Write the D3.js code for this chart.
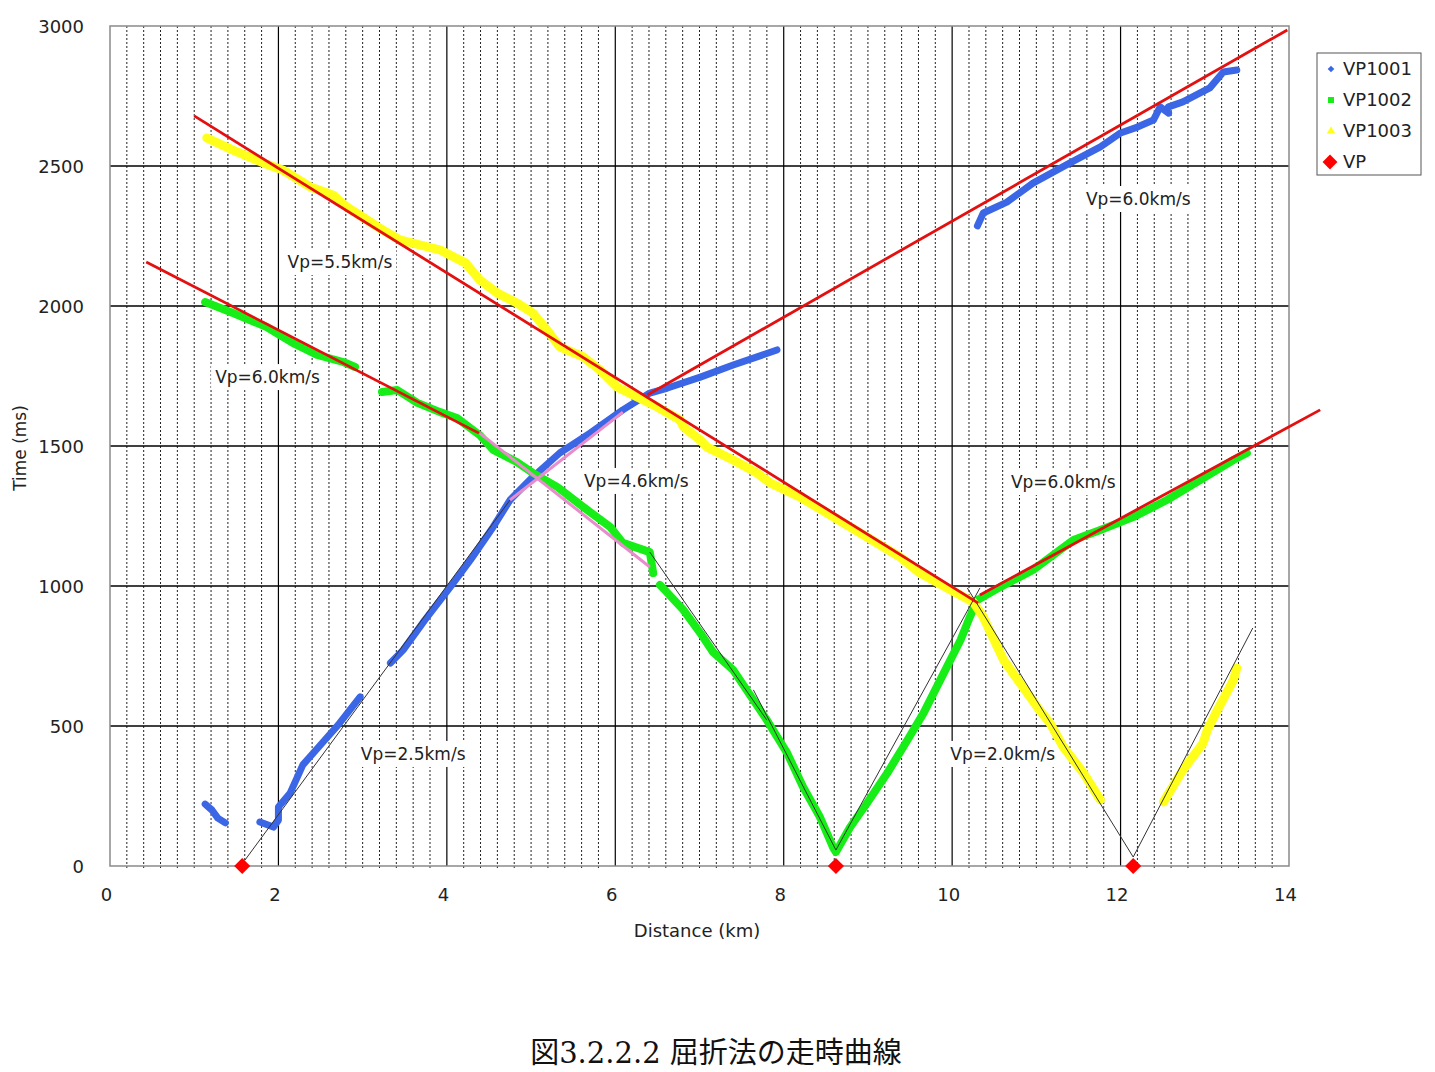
<!DOCTYPE html>
<html><head><meta charset="utf-8">
<script src="https://cdn.jsdelivr.net/npm/d3@7"></script>
<style>body{margin:0;background:#fff;} svg{display:block}</style>
</head><body><svg id="c" width="1435" height="1072"></svg>
<script>
// ---------- data ----------
const xTicks = [0, 2, 4, 6, 8, 10, 12, 14];
const yTicks = [0, 500, 1000, 1500, 2000, 2500, 3000];
const minorStep = 0.2;
const legendNames = ["VP1001", "VP1002", "VP1003", "VP"];

// observed first arrivals (distance km, time ms), as traced segments
const vp1001 = [
  [[1.13,221],[1.21,200],[1.28,171],[1.37,154]],
  [[1.78,157],[1.94,139],[2.00,164],[2.00,211],[2.14,261],[2.29,361],[2.53,443],[2.71,504],[2.97,604]],
  [[3.33,725],[3.48,771],[3.74,879],[4.04,996],[4.28,1093],[4.55,1211],[4.75,1307],[5.02,1389],[5.34,1475],[5.70,1546],[6.09,1629],[6.41,1689],[6.62,1707],[7.01,1746],[7.40,1789],[7.92,1843]],
  [[10.30,2286],[10.37,2332],[10.65,2371],[10.96,2439],[11.40,2511],[11.76,2568],[12.00,2618],[12.20,2639],[12.39,2664],[12.47,2711],[12.57,2689]],
  [[12.57,2711],[12.74,2729],[13.06,2779],[13.22,2836],[13.38,2843]]
];
const vp1002 = [
  [[1.13,2014],[1.46,1975],[1.86,1925],[2.17,1868],[2.46,1825],[2.77,1800],[2.91,1782]],
  [[3.23,1693],[3.41,1700],[3.65,1654],[3.92,1621],[4.12,1600],[4.39,1539],[4.55,1486],[4.83,1443],[5.02,1404],[5.31,1354],[5.62,1282],[5.94,1211],[6.09,1154],[6.41,1121],[6.45,1046]],
  [[6.53,1004],[6.81,914],[7.01,832],[7.16,764],[7.40,700],[7.64,593],[7.80,521],[8.04,404],[8.23,282],[8.43,175],[8.59,64],[8.62,50],[8.79,139],[8.99,225],[9.23,332],[9.47,450],[9.66,546],[9.98,736],[10.10,807],[10.21,889],[10.30,950],[10.57,996],[10.96,1057],[11.44,1164],[11.76,1200],[12.15,1246],[12.55,1307],[12.95,1379],[13.34,1450],[13.50,1475]]
];
const vp1003 = [
  [[1.15,2600],[1.46,2557],[1.82,2511],[2.05,2486],[2.38,2425],[2.65,2396],[2.81,2354],[3.24,2271],[3.44,2236],[3.92,2200],[4.22,2154],[4.39,2093],[4.60,2046],[4.83,2011],[5.02,1975],[5.19,1914],[5.34,1854],[5.62,1818],[5.82,1771],[6.02,1711],[6.26,1675],[6.50,1639],[6.77,1593],[6.81,1568],[7.01,1521],[7.09,1496],[7.40,1450],[7.68,1404],[7.84,1368],[8.19,1318],[8.55,1254],[8.91,1189],[9.38,1104],[9.62,1046],[9.98,986],[10.25,943],[10.37,889],[10.61,736],[11.01,568],[11.16,511],[11.32,425],[11.56,332],[11.76,236]],
  [[12.51,229],[12.74,343],[12.98,439],[13.03,486],[13.15,557],[13.34,664],[13.38,707]]
];
const vpShotX = [1.57, 8.62, 12.15];

// fitted refraction lines (red), intermediate layer (pink), direct waves (black)
const refractLines = [
  [[1.00,2679],[10.31,939]],
  [[0.43,2157],[4.38,1546]],
  [[6.38,1682],[13.98,2986]],
  [[10.33,968],[14.37,1629]]
];
const pinkLines = [
  [[4.39,1546],[6.41,1068]],
  [[4.75,1307],[6.09,1621]]
];
const directLines = [
  [[1.60,20],[4.75,1307]],
  [[6.41,1121],[7.80,521]],
  [[7.64,629],[8.62,57]],
  [[8.62,57],[10.33,993]],
  [[10.18,993],[12.15,32]],
  [[12.15,32],[13.57,850]]
];
const velocityLabels = [
  {text:"Vp=5.5km/s", x:2.73, t:2157},
  {text:"Vp=6.0km/s", x:1.87, t:1746},
  {text:"Vp=4.6km/s", x:6.25, t:1375},
  {text:"Vp=6.0km/s", x:12.21, t:2382},
  {text:"Vp=6.0km/s", x:11.32, t:1371},
  {text:"Vp=2.5km/s", x:3.60, t:400},
  {text:"Vp=2.0km/s", x:10.60, t:400}
];

// ---------- drawing ----------
const svg = d3.select("#c");
const W = 1435, H = 1072;
const L = 110, R = 1289, T = 26, B = 866;
const x = d3.scaleLinear().domain([0,14]).range([L,R]);
const y = d3.scaleLinear().domain([0,3000]).range([B,T]);
const font = "'DejaVu Sans', 'Noto Sans CJK JP', sans-serif";

svg.append("rect").attr("width",W).attr("height",H).attr("fill","#fff");

const grid = svg.append("g");
const minor = d3.range(minorStep, 14, minorStep).filter(v => Math.abs(v/2 - Math.round(v/2)) > 0.01);
grid.selectAll(".mn").data(minor).enter().append("line")
  .attr("x1",d=>x(d)).attr("x2",d=>x(d)).attr("y1",T).attr("y2",B+3)
  .attr("stroke","#222").attr("stroke-width",1).attr("stroke-dasharray","2,2");
grid.selectAll(".mj").data(xTicks.filter(v=>v>0&&v<14)).enter().append("line")
  .attr("x1",d=>x(d)).attr("x2",d=>x(d)).attr("y1",T).attr("y2",B)
  .attr("stroke","#000").attr("stroke-width",1.2);
grid.selectAll(".hj").data(yTicks.filter(v=>v>0&&v<3000)).enter().append("line")
  .attr("x1",L).attr("x2",R).attr("y1",d=>y(d)).attr("y2",d=>y(d))
  .attr("stroke","#000").attr("stroke-width",1.4);
svg.append("rect").attr("x",L).attr("y",T).attr("width",R-L).attr("height",B-T)
  .attr("fill","none").attr("stroke","#8a8a8a").attr("stroke-width",1.5);

const xAxis = svg.append("g").attr("transform",`translate(0,${B})`)
  .call(d3.axisBottom(x).tickValues(xTicks).tickSize(0).tickPadding(22).tickFormat(d3.format("d")));
xAxis.select(".domain").remove();
xAxis.selectAll("text").attr("font-family",font).attr("font-size",18).attr("fill","#222").attr("dx",-4);
const yAxis = svg.append("g").attr("transform",`translate(${L},0)`)
  .call(d3.axisLeft(y).tickValues(yTicks).tickSize(0).tickPadding(26).tickFormat(d3.format("d")));
yAxis.select(".domain").remove();
yAxis.selectAll("text").attr("font-family",font).attr("font-size",18).attr("fill","#222").attr("dy","0.35em");

svg.append("text").attr("x",697).attr("y",937).attr("text-anchor","middle")
  .attr("font-family",font).attr("font-size",18).attr("fill","#222").text("Distance (km)");
svg.append("text").attr("transform","translate(26,448) rotate(-90)").attr("text-anchor","middle")
  .attr("font-family",font).attr("font-size",17).attr("fill","#222").text("Time (ms)");

const lab = svg.append("g");
velocityLabels.forEach(d=>{
  const g = lab.append("g");
  const t = g.append("text").attr("x",x(d.x)).attr("y",y(d.t)).attr("dy","0.35em")
    .attr("text-anchor","middle").attr("font-family",font).attr("font-size",17).attr("fill","#222").text(d.text);
  const bb = t.node().getBBox();
  g.insert("rect","text").attr("x",bb.x-4).attr("y",bb.y-3).attr("width",bb.width+8).attr("height",bb.height+6).attr("fill","#fff");
});

const line = d3.line().x(d=>x(d[0])).y(d=>y(d[1]));
const series = [
  {data:vp1001, color:"#3b66e6", w:7},
  {data:vp1002, color:"#17ee17", w:8},
  {data:vp1003, color:"#ffff1a", w:9}
];
series.forEach(s=>{
  svg.append("g").selectAll("path").data(s.data).enter().append("path")
    .attr("d",line).attr("fill","none").attr("stroke",s.color).attr("stroke-width",s.w)
    .attr("stroke-linejoin","round").attr("stroke-linecap","round");
});

svg.append("g").selectAll("path").data(directLines).enter().append("path")
  .attr("d",line).attr("fill","none").attr("stroke","#333").attr("stroke-width",1);
svg.append("g").selectAll("path").data(pinkLines).enter().append("path")
  .attr("d",line).attr("fill","none").attr("stroke","#e88ccc").attr("stroke-width",3);
svg.append("g").selectAll("path").data(refractLines).enter().append("path")
  .attr("d",line).attr("fill","none").attr("stroke","#e41010").attr("stroke-width",2.8);

// shot points: square diamonds
const rhombus = s => d3.symbol().type(d3.symbolSquare).size(s)();
svg.append("g").selectAll("path").data(vpShotX).enter().append("path")
  .attr("transform",d=>`translate(${x(d)},${y(0)}) rotate(45)`).attr("d",rhombus(130)).attr("fill","#ff0000");

const lg = svg.append("g").attr("transform","translate(1317,53)");
lg.append("rect").attr("width",104).attr("height",122).attr("fill","#fff").attr("stroke","#555").attr("stroke-width",1);
const legendMarks = [
  {d:rhombus(22), rot:45},
  {d:d3.symbol().type(d3.symbolSquare).size(36)(), rot:0},
  {d:d3.symbol().type(d3.symbolTriangle).size(30)(), rot:0},
  {d:rhombus(110), rot:45}
];
const legendColors = ["#3b66e6","#17ee17","#ffff1a","#ff0000"];
legendNames.forEach((n,i)=>{
  const yy = 16 + i*31;
  lg.append("path").attr("transform",`translate(${i===3?13:14},${yy}) rotate(${legendMarks[i].rot})`).attr("d",legendMarks[i].d).attr("fill",legendColors[i]);
  lg.append("text").attr("x",26).attr("y",yy).attr("dy","0.36em").attr("font-family",font)
    .attr("font-size",18).attr("fill","#222").text(n);
});

svg.append("text").attr("x",716).attr("y",1063).attr("text-anchor","middle")
  .attr("font-family","'DejaVu Serif', 'Liberation Serif', 'Noto Sans CJK JP', serif").attr("font-size",29).attr("fill","#111")
  .text("図3.2.2.2 屈折法の走時曲線");
</script></body></html>
